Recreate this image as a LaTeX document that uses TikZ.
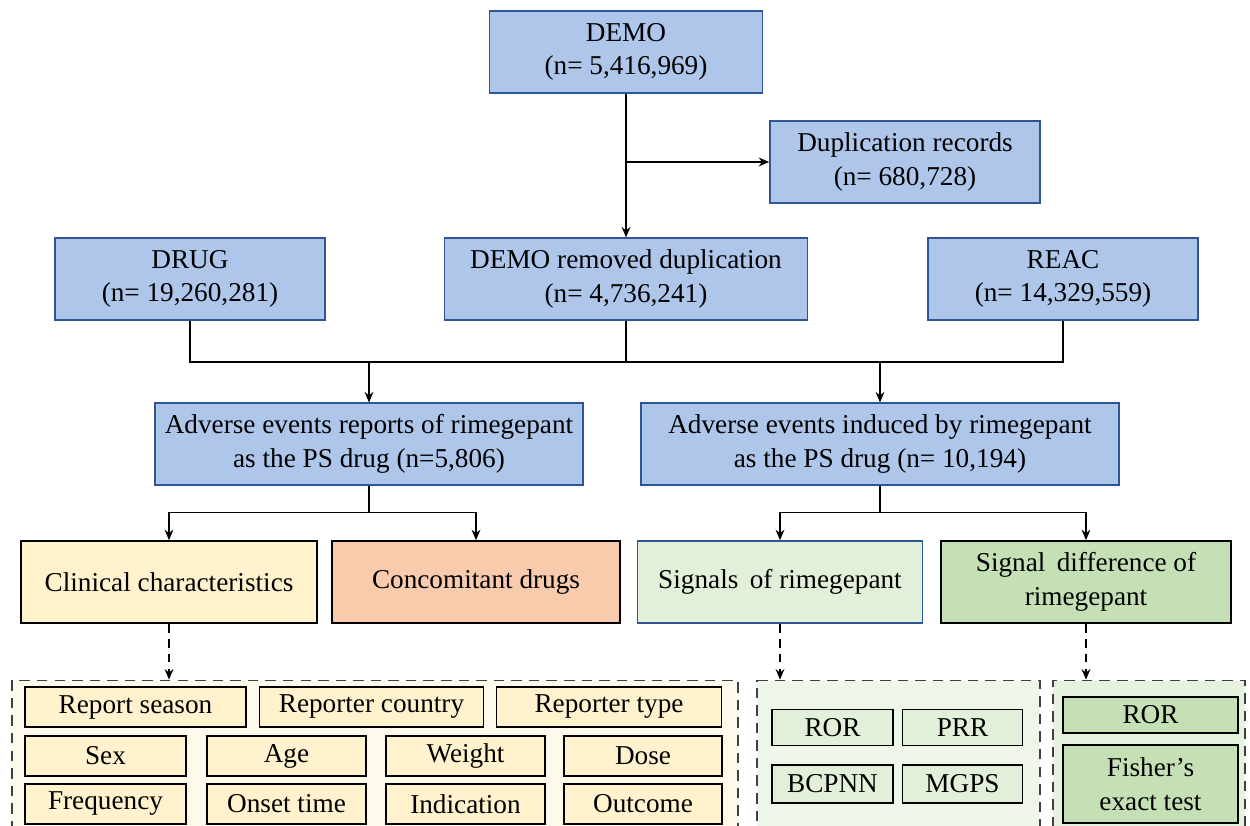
\documentclass[tikz,border=0pt]{standalone}
\usepackage{fontspec}
\setmainfont{Liberation Serif}
\usetikzlibrary{arrows.meta}
\definecolor{demoblue}{HTML}{ADC6EA}
\definecolor{edgeblue}{HTML}{2F5597}
\definecolor{clinfill}{HTML}{FFF2CC}
\definecolor{concfill}{HTML}{F8CBAD}
\definecolor{sigfill}{HTML}{E2F0D9}
\definecolor{difffill}{HTML}{C5E0B4}
\definecolor{clingrp}{HTML}{FFF9EC}
\definecolor{siggrp}{HTML}{EEF6EA}
\definecolor{diffgrp}{HTML}{E5F2DE}
\newcommand{\boxfont}{\fontsize{15.5}{19}\selectfont}
\begin{document}
\begin{tikzpicture}[x=0.02cm, y=-0.02cm,
  box/.style={draw, line width=0.9pt, align=center, inner sep=0pt, font=\boxfont},
  bluebox/.style={box, draw=edgeblue, fill=demoblue, minimum height=1.63cm},
  midbox/.style={box, minimum height=1.64cm},
  itembox/.style={box, fill=clinfill, minimum height=0.79cm},
  flow/.style={line width=0.9pt, -{Stealth[length=6pt, width=5pt]}},
  dashflow/.style={flow, dash pattern=on 5pt off 3.5pt},
  group/.style={draw=black!75, line width=1pt, dash pattern=on 6pt off 4pt, inner sep=0pt}]
\useasboundingbox (0,0) rectangle (1250,825);
\clip (0,0) rectangle (1250,825);

% top part
\node[bluebox, minimum width=5.46cm](demo) at (626,52) {DEMO\\(n= 5,416,969)};
\node[bluebox, minimum width=5.4cm](dup) at (905,162) {Duplication records\\(n= 680,728)};
\node[bluebox, minimum width=5.4cm](drug) at (190,279) {DRUG\\(n= 19,260,281)};
\node[bluebox, minimum width=7.26cm](demorm) at (626,279) {DEMO removed duplication\\(n= 4,736,241)};
\node[bluebox, minimum width=5.4cm](reac) at (1063,279) {REAC\\(n= 14,329,559)};

\node[bluebox, minimum width=8.56cm](adv1) at (369,444) {Adverse events reports of rimegepant\\as the PS drug (n=5,806)};
\node[bluebox, minimum width=9.56cm](adv2) at (880,444) {Adverse events induced by rimegepant\\as the PS drug (n= 10,194)};

\coordinate (split) at (626,162);
\coordinate (bus) at (626,362);
\draw[flow] (demo) -- (demorm);
\draw[flow] (split) -- (dup.west);
\draw[line width=0.9pt] (drug.south) -- (drug.south |- bus) -- (reac.south |- bus) -- (reac.south);
\draw[line width=0.9pt] (demorm.south) -- (bus);
\draw[flow] (adv1.north |- bus) -- (adv1.north);
\draw[flow] (adv2.north |- bus) -- (adv2.north);

% second level
\node[midbox, fill=clinfill, minimum width=5.92cm](clin) at (169,582) {Clinical characteristics};
\node[midbox, fill=concfill, minimum width=5.76cm](conc) at (476,582) {Concomitant drugs};
\node[midbox, draw=edgeblue, fill=sigfill, minimum width=5.7cm](sig) at (780,582) {Signals\, of rimegepant};
\node[midbox, fill=difffill, minimum width=5.8cm](sigdiff) at (1086,582) {Signal\, difference of\\rimegepant};

\draw[flow] (adv1.south) -- ++(0,27) -| (clin.north);
\draw[flow] (adv1.south) -- ++(0,27) -| (conc.north);
\draw[flow] (adv2.south) -- ++(0,27) -| (sig.north);
\draw[flow] (adv2.south) -- ++(0,27) -| (sigdiff.north);

% dashed groups
\node[group, fill=clingrp, minimum width=14.52cm, minimum height=3.3cm](clingroup) at (375,763) {};
\node[group, fill=siggrp, minimum width=5.66cm, minimum height=3.3cm](siggroup) at (898.5,763) {};
\node[group, fill=diffgrp, minimum width=3.84cm, minimum height=3.3cm](diffgroup) at (1149,763) {};

\draw[dashflow] (clin.south) -- (clin.south |- clingroup.north);
\draw[dashflow] (sig.south) -- (sig.south |- siggroup.north);
\draw[dashflow] (sigdiff.south) -- (sigdiff.south |- diffgroup.north);

% clinical items
\node[itembox, minimum width=4.42cm](season) at (135.5,707) {Report season};
\node[itembox, minimum width=4.48cm](country) at (371.5,707) {Reporter country};
\node[itembox, minimum width=4.5cm](rtype) at (609,707) {Reporter type};
\node[itembox, minimum width=3.22cm](sex) at (105.5,756) {Sex};
\node[itembox, minimum width=3.18cm](age) at (286.5,756) {Age};
\node[itembox, minimum width=3.18cm](weight) at (465.5,756) {Weight};
\node[itembox, minimum width=3.16cm](dose) at (643,756) {Dose};
\node[itembox, minimum width=3.22cm](freq) at (105.5,804) {Frequency};
\node[itembox, minimum width=3.18cm](onset) at (286.5,804) {Onset time};
\node[itembox, minimum width=3.18cm](indic) at (465.5,804) {Indication};
\node[itembox, minimum width=3.16cm](outcome) at (643,804) {Outcome};

% signal methods
\node[box, fill=sigfill, minimum width=2.42cm, minimum height=0.72cm](ror) at (832.5,727.5) {ROR};
\node[box, fill=sigfill, minimum width=2.4cm, minimum height=0.72cm](prr) at (962.5,727.5) {PRR};
\node[box, fill=sigfill, minimum width=2.42cm, minimum height=0.76cm](bcpnn) at (832.5,784) {BCPNN};
\node[box, fill=sigfill, minimum width=2.4cm, minimum height=0.76cm](mgps) at (962.5,784) {MGPS};

% difference methods
\node[box, fill=difffill, minimum width=3.5cm, minimum height=0.72cm](ror2) at (1150.5,715) {ROR};
\node[box, fill=difffill, minimum width=3.5cm, minimum height=1.56cm](fisher) at (1150.5,784) {Fisher’s\\exact test};
\end{tikzpicture}
\end{document}
